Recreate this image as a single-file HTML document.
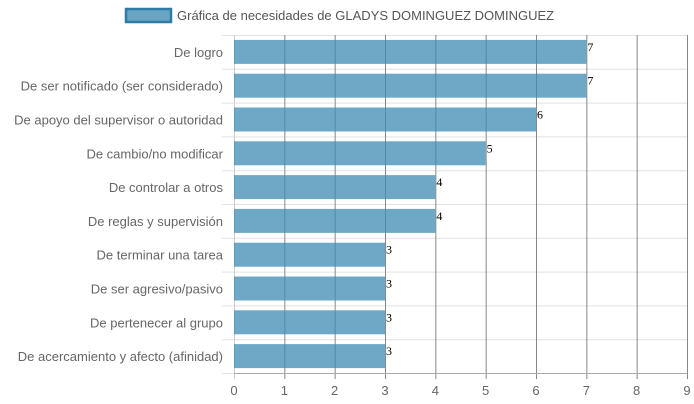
<!DOCTYPE html>
<html><head><meta charset="utf-8"><style>body{margin:0;background:#fff}svg{display:block;font-family:"Liberation Sans",sans-serif}</style></head>
<body>
<svg id="c" width="694" height="404">
<rect x="126" y="9" width="45" height="13" fill="#6aa6c4" stroke="#2f7ba6" stroke-width="2.5"/>
<text x="177" y="20" font-size="13" fill="#555">Gráfica de necesidades de GLADYS DOMINGUEZ DOMINGUEZ</text>
<g id="g"></g>
</svg>
<script>
const categories=["De logro","De ser notificado (ser considerado)","De apoyo del supervisor o autoridad","De cambio/no modificar","De controlar a otros","De reglas y supervisión","De terminar una tarea","De ser agresivo/pasivo","De pertenecer al grupo","De acercamiento y afecto (afinidad)"];
const values=[7,7,6,5,4,4,3,3,3,3];
const ticks=[0,1,2,3,4,5,6,7,8,9];
const X0=234,X1=687,Y0=35,Y1=373,maxV=9;
const x=v=>X0+(X1-X0)*v/maxV;
const step=(Y1-Y0)/categories.length;
const y=i=>Y0+step*i;
const g=document.getElementById('g');
const NS='http://www.w3.org/2000/svg';
function mk(t,a){const e=document.createElementNS(NS,t);for(const k in a)e.setAttribute(k,a[k]);g.appendChild(e);return e;}
for(let i=0;i<=categories.length;i++){
 const l=mk('line',{x1:222,x2:X1,y1:y(i)+0.5,y2:y(i)+0.5,stroke:'#e2e2e2'});
 
 
}
ticks.forEach(t=>{
 const l=mk('line',{x1:x(t)+0.5,x2:x(t)+0.5,y1:Y0,y2:Y1+6,stroke:t===0?'#ccc':'#888'});
 
 
 const tx=mk('text',{x:x(t),y:395,'font-size':13,fill:'#666','text-anchor':'middle'});
 tx.textContent=t;
 
 
});
const ax=mk('line',{x1:X0,x2:X1,y1:Y1+0.5,y2:Y1+0.5,stroke:'#aaa'});


categories.forEach((c,i)=>{
 const cy=y(i)+step/2;
 const b=mk('rect',{x:X0,y:cy-12,width:x(values[i])-X0,height:24,fill:'rgba(60,140,180,0.75)'});
 
 
 const lb=mk('text',{x:223,y:cy+5,'font-size':13,fill:'#666','text-anchor':'end'});
 lb.textContent=c;
 
 
 const vl=mk('text',{x:x(values[i])+1,y:cy-1,'font-size':12,fill:'#000','font-family':'Liberation Serif'});
 vl.textContent=values[i];
 
 
});
</script>
</body></html>
